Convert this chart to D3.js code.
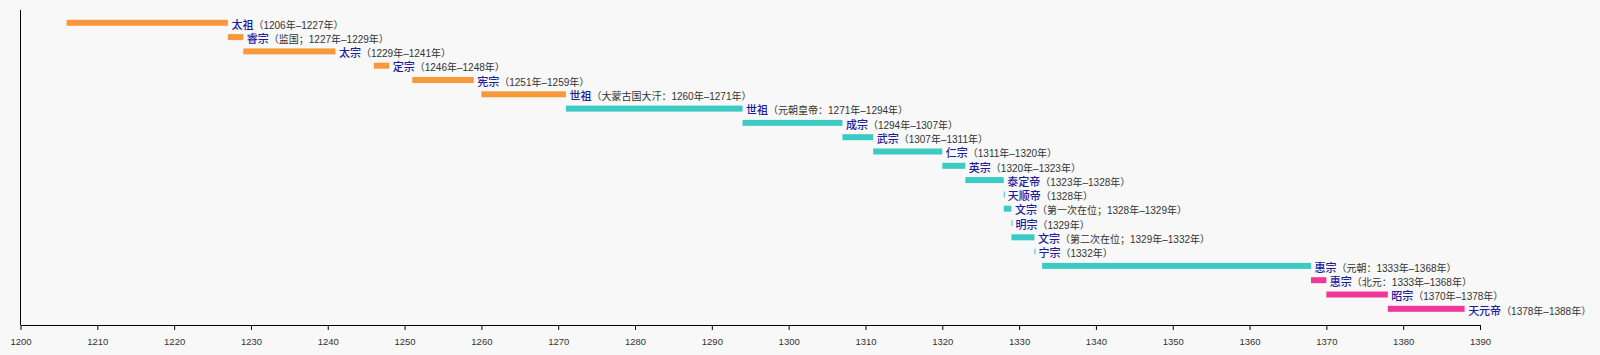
<!DOCTYPE html>
<html>
<head>
<meta charset="utf-8">
<script src="https://cdn.jsdelivr.net/npm/d3@7"></script>
<style>
  html, body { margin: 0; padding: 0; background: #f8f8f8; }
  svg { display: block; }
</style>
</head>
<body>
<svg id="chart" width="1600" height="355"></svg>
<script>
const names = ["太祖","睿宗","太宗","定宗","宪宗","世祖","世祖","成宗","武宗","仁宗","英宗","泰定帝","天顺帝","文宗","明宗","文宗","宁宗","惠宗","惠宗","昭宗","天元帝"];
const details = ["（1206年–1227年）","（监国；1227年–1229年）","（1229年–1241年）","（1246年–1248年）","（1251年–1259年）","（大蒙古国大汗：1260年–1271年）","（元朝皇帝：1271年–1294年）","（1294年–1307年）","（1307年–1311年）","（1311年–1320年）","（1320年–1323年）","（1323年–1328年）","（1328年）","（第一次在位；1328年–1329年）","（1329年）","（第二次在位；1329年–1332年）","（1332年）","（元朝：1333年–1368年）","（北元：1333年–1368年）","（1370年–1378年）","（1378年–1388年）"];
const starts = [1206,1227,1229,1246,1251,1260,1271,1294,1307,1311,1320,1323,1328,1328,1329,1329,1332,1333,1368,1370,1378];
const ends   = [1227,1229,1241,1248,1259,1271,1294,1307,1311,1320,1323,1328,1328,1329,1329,1332,1332,1368,1370,1378,1388];
const eras   = ["蒙古","蒙古","蒙古","蒙古","蒙古","蒙古","元","元","元","元","元","元","元","元","元","元","元","元","北元","北元","北元"];
const eraNames = ["蒙古","元","北元"];
const eraColors = ["#f7993a","#3ccac5","#f2379b"];
const tickValues = [1200,1210,1220,1230,1240,1250,1260,1270,1280,1290,1300,1310,1320,1330,1340,1350,1360,1370,1380,1390];

const rows = names.map((n, i) => ({i, name: n, detail: details[i], start: starts[i], end: ends[i], era: eras[i]}));

const svg = d3.select("#chart");
const x = d3.scaleLinear().domain([1200, 1390]).range([20.5, 1480]);
const y = d3.scaleBand().domain(d3.range(rows.length)).range([15.65, 15.65 + 14.3 * rows.length]).paddingInner(0).paddingOuter(0);
const color = d3.scaleOrdinal().domain(eraNames).range(eraColors);
const barH = 6;

svg.append("rect").attr("width", 1600).attr("height", 355).attr("fill", "#f8f8f8");

// left vertical axis line
svg.append("line")
  .attr("x1", x(1200)).attr("x2", x(1200))
  .attr("y1", 10).attr("y2", 325)
  .attr("stroke", "#000").attr("stroke-width", 1);

// bottom axis
const axis = svg.append("g")
  .attr("transform", "translate(0,325)")
  .call(d3.axisBottom(x).tickValues(tickValues).tickFormat(d3.format("d")).tickSize(5).tickSizeOuter(0).tickPadding(8));
axis.select(".domain").attr("stroke", "#000");
axis.selectAll(".tick line").attr("stroke", "#000");
axis.selectAll(".tick text")
  .attr("fill", "#333")
  .style("font-family", "'Liberation Sans', Arial, sans-serif")
  .style("font-size", "9.5px");

// bars
svg.append("g").selectAll("rect")
  .data(rows)
  .join("rect")
  .attr("x", d => x(d.start))
  .attr("width", d => Math.max(1, x(d.end) - x(d.start)))
  .attr("y", d => y(d.i) + y.bandwidth() / 2 - barH / 2)
  .attr("height", barH)
  .attr("fill", d => color(d.era));

// labels
const labels = svg.append("g").selectAll("text")
  .data(rows)
  .join("text")
  .attr("x", d => x(d.end) + (d.end === d.start ? 4 : 3.5))
  .attr("y", d => y(d.i) + y.bandwidth() / 2)
  .attr("dy", "0.36em")
  .style("font-family", "'Liberation Sans', 'Noto Sans CJK SC', sans-serif");

labels.append("tspan")
  .attr("fill", "#1c1c9e")
  .style("font-family", "'Noto Sans CJK SC', sans-serif")
  .style("font-size", "11px")
  .style("font-weight", "500")
  .text(d => d.name);

labels.append("tspan")
  .attr("fill", "#333")
  .style("font-size", "10px")
  .text(d => d.detail);
</script>
</body>
</html>
